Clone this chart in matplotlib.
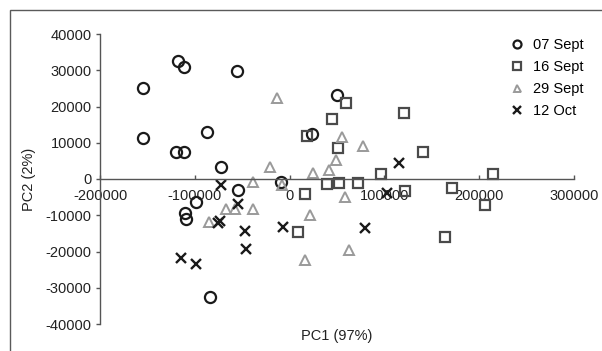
import matplotlib
matplotlib.use("Agg")
import matplotlib.pyplot as plt
from matplotlib.patches import Rectangle

plt.rcParams["font.family"] = ["Liberation Sans", "DejaVu Sans"]
plt.rcParams["axes.unicode_minus"] = False

# PCA scores per sampling date (PC1, PC2)
sept07_pc1 = [-155000, -155000, -117700, -111000, -55200, -87400, -119800, -111400,
              -72400, -54100, -98700, -110000, -109000, -84000, 50300, 23300, -9200]
sept07_pc2 = [25100, 11300, 32500, 30900, 29900, 12900, 7400, 7400,
              3200, -3000, -6400, -9300, -11000, -32500, 23200, 12300, -800]

sept16_pc1 = [59500, 45000, 120700, 18000, 141000, 50700, 96100, 214900, 16200,
              39100, 52400, 72500, 121700, 171300, 206000, 164000, 9200]
sept16_pc2 = [20900, 16500, 18200, 11900, 7500, 8500, 1500, 1300, -4000,
              -1400, -1100, -1200, -3200, -2600, -7200, -16100, -14500]

sept29_pc1 = [-13600, 55000, 77700, 49000, 41700, 25000, -20300, -38800, -8300,
              58400, 21800, -38300, -67200, -57600, -84700, 63000, 16200]
sept29_pc2 = [22300, 11700, 9000, 5200, 2600, 1600, 3400, -800, -1700,
              -4900, -9800, -8200, -8200, -8200, -11900, -19600, -22300]

oct12_pc1 = [-72400, -54700, -73500, -75500, -47000, -46300, -7300, -114900,
             -99000, 79500, 115700, 102400]
oct12_pc2 = [-1700, -7000, -11500, -12200, -14300, -19300, -13200, -21900,
             -23500, -13600, 4300, -3900]

series_labels = ["07 Sept", "16 Sept", "29 Sept", "12 Oct"]

x_ticks = [-200000, -100000, 0, 100000, 200000, 300000]
x_tick_labels = ["-200000", "-100000", "0", "100000", "200000", "300000"]
y_ticks = [-40000, -30000, -20000, -10000, 0, 10000, 20000, 30000, 40000]
y_tick_labels = ["-40000", "-30000", "-20000", "-10000", "0",
                 "10000", "20000", "30000", "40000"]

W, H = 602, 351
fig = plt.figure(figsize=(W / 100, H / 100), dpi=100)

# outer frame running off the right and bottom edges
fig.patches.append(Rectangle((10 / W, -0.1), 1.2, 1 - 9.5 / H + 0.1,
                             transform=fig.transFigure, fill=False,
                             edgecolor="#5a5a5a", linewidth=1.0))

ax = fig.add_axes([100 / W, 27 / H, 474 / W, 290 / H])
ax.set_xlim(-200000, 300000)
ax.set_ylim(-40000, 40000)

axis_color = "#555555"
for side in ("top", "right"):
    ax.spines[side].set_visible(False)
ax.spines["bottom"].set_position(("data", 0))
ax.spines["bottom"].set_color(axis_color)
ax.spines["left"].set_color(axis_color)
ax.spines["bottom"].set_linewidth(1.0)
ax.spines["left"].set_linewidth(1.0)

ax.set_xticks(x_ticks)
ax.set_xticklabels(x_tick_labels)
ax.set_yticks(y_ticks)
ax.set_yticklabels(y_tick_labels)
ax.tick_params(axis="x", direction="in", length=3, width=1.0, color=axis_color,
               pad=7, labelsize=10.5, labelcolor="#222222")
ax.tick_params(axis="y", direction="out", length=3, width=1.0, color=axis_color,
               pad=3, labelsize=10.5, labelcolor="#222222")

common = dict(linestyle="none", markerfacecolor="none", clip_on=False)
ax.plot(sept07_pc1, sept07_pc2, marker="o", markersize=8, markeredgewidth=1.6,
        markeredgecolor="#1a1a1a", label=series_labels[0], **common)
ax.plot(sept16_pc1, sept16_pc2, marker="s", markersize=7.3, markeredgewidth=1.6,
        markeredgecolor="#4a4a4a", label=series_labels[1], **common)
ax.plot(sept29_pc1, sept29_pc2, marker="^", markersize=7.0, markeredgewidth=1.4,
        markeredgecolor="#9a9a9a", label=series_labels[2], **common)
ax.plot(oct12_pc1, oct12_pc2, marker="x", markersize=7.5, markeredgewidth=1.7,
        markeredgecolor="#1a1a1a", label=series_labels[3], **common)

ax.legend(loc="upper left", bbox_to_anchor=(510 / W, 1 - 38 / H),
          bbox_transform=fig.transFigure, frameon=False, fontsize=10.5,
          markerscale=0.72, handlelength=1.0, handletextpad=0.6,
          labelspacing=0.55, borderpad=0, borderaxespad=0)

fig.text(337 / W, 1 - 336 / H, "PC1 (97%)", ha="center", va="center",
         fontsize=10.5, color="#222222")
fig.text(29 / W, 1 - 179 / H, "PC2 (2%)", ha="center", va="center",
         rotation=90, fontsize=10.5, color="#222222")

fig.savefig("out.png", dpi=100)
